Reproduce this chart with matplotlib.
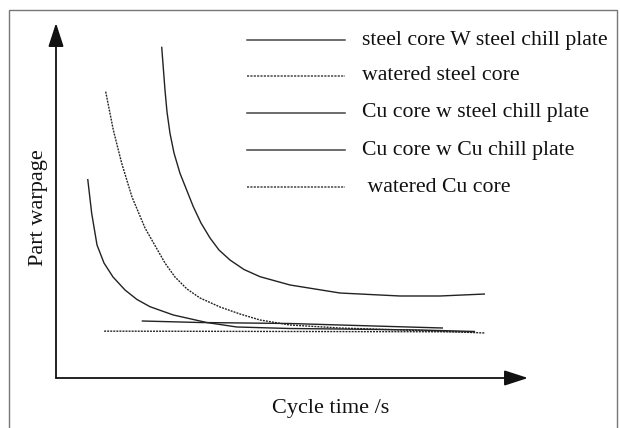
import numpy as np
import matplotlib
matplotlib.use("Agg")
import matplotlib.pyplot as plt
from matplotlib.patches import Rectangle

plt.rcParams['font.family'] = ['Liberation Serif', 'DejaVu Serif']

# schematic curves, arbitrary units (0-100 on both axes)
steel_steel_x = [22.39, 23.09, 23.52, 24.15, 25.00, 26.27, 29.09, 30.72, 32.63, 34.53,
                 36.86, 39.83, 43.22, 49.58, 60.17, 72.88, 81.36, 90.89]
steel_steel_y = [93.32, 81.13, 74.93, 68.93, 63.38, 57.66, 48.25, 43.66, 39.44, 36.06,
                 33.24, 30.56, 28.54, 26.20, 23.94, 23.10, 23.10, 23.66]

wat_steel_x = [10.53, 12.14, 13.92, 16.10, 18.86, 23.09, 25.21, 27.75, 30.51, 34.75,
               38.98, 43.22, 49.58, 60.17, 77.12, 90.89]
wat_steel_y = [80.65, 69.86, 60.48, 50.99, 42.25, 32.39, 28.45, 25.07, 22.54, 20.00,
               18.03, 16.34, 14.93, 14.08, 13.38, 12.68]

cu_steel_x = [6.72, 7.56, 8.69, 10.17, 12.08, 14.62, 17.16, 19.92, 24.85, 31.93, 38.28,
              49.58, 60.17, 77.12, 88.77]
cu_steel_y = [56.06, 46.39, 37.46, 32.39, 28.45, 24.79, 22.11, 20.08, 17.75, 15.63, 14.37,
              13.94, 13.80, 13.52, 13.10]

cu_cu_x = [18.16, 30.51, 49.58, 60.17, 81.99]
cu_cu_y = [16.06, 15.63, 15.35, 14.93, 14.08]

wat_cu_x = [10.2, 51.7, 88.8]
wat_cu_y = [13.2, 13.1, 13.0]

labels = ['steel core W steel chill plate', 'watered steel core',
          'Cu core w steel chill plate', 'Cu core w Cu chill plate',
          ' watered Cu core']
dotted = (0, (1.4, 0.8))
styles = ['-', dotted, '-', '-', dotted]

W, H = 620, 428
fig = plt.figure(figsize=(6.2, 4.28), dpi=100)
ax = fig.add_axes([56 / W, (H - 378) / H, 472 / W, 355 / H])
ax.set_xlim(0, 100)
ax.set_ylim(0, 100)
ax.axis('off')

series = [(steel_steel_x, steel_steel_y), (wat_steel_x, wat_steel_y),
          (cu_steel_x, cu_steel_y), (cu_cu_x, cu_cu_y), (wat_cu_x, wat_cu_y)]
for (x, y), ls in zip(series, styles):
    ax.plot(x, y, color='#222222', lw=1.0, ls=ls, solid_capstyle='butt',
            solid_joinstyle='round')

# axes with arrow heads
arrow = dict(arrowstyle='-|>,head_length=1.45,head_width=0.47', color='#111111',
             lw=1.3, shrinkA=0, shrinkB=0, mutation_scale=10)
ax.annotate('', xy=(0, 1), xytext=(0, 0), xycoords='axes fraction', arrowprops=arrow)
ax.annotate('', xy=(1, 0), xytext=(0, 0), xycoords='axes fraction', arrowprops=arrow)

# legend drawn by hand
rows = [40, 76, 113, 150, 187]
for lab, ls, ry in zip(labels, styles, rows):
    yy = 1 - ry / H
    fig.add_artist(plt.Line2D([247 / W, 345 / W], [yy, yy], color='#444444', lw=1.1, ls=ls))
    fig.text(362 / W, yy, lab, fontsize=15.7, va='center', ha='left', color='#111111')

fig.text(331 / W, 1 - 408 / H, 'Cycle time /s', fontsize=16, ha='center', va='center', color='#111111')
fig.text(38 / W, 1 - 208 / H, 'Part warpage', fontsize=16, ha='center', va='center',
         rotation=90, color='#111111')

fig.add_artist(Rectangle((8.5 / W, -0.02), (616.5 - 8.5) / W, (H - 9.5) / H + 0.02,
                         transform=fig.transFigure, fill=False, edgecolor='#777777', lw=1.0))

fig.savefig('out.png', dpi=100)
